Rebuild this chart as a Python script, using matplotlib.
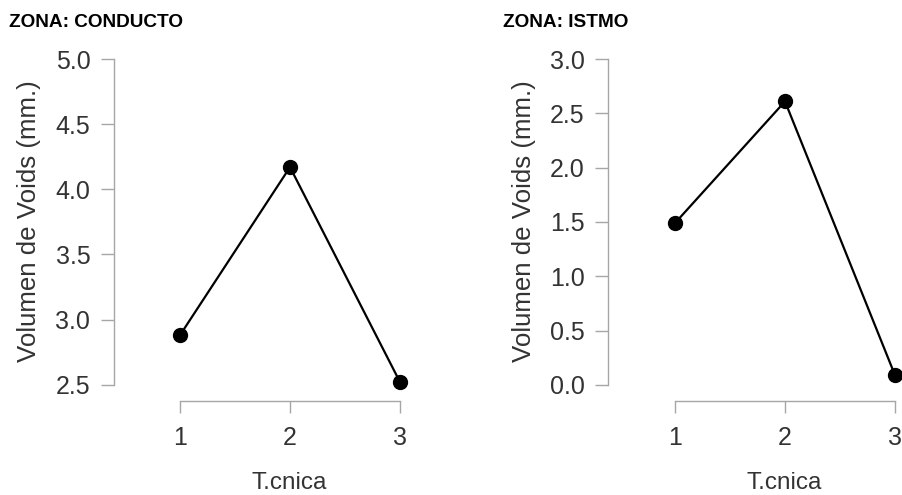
import matplotlib
matplotlib.use("Agg")
import matplotlib.pyplot as plt

plt.rcParams["font.family"] = ["Liberation Sans", "DejaVu Sans"]

# datos
tecnica = [1, 2, 3]
conducto = [2.88, 4.17, 2.52]
istmo = [1.49, 2.61, 0.09]
yt_conducto = [2.5, 3.0, 3.5, 4.0, 4.5, 5.0]
yt_istmo = [0.0, 0.5, 1.0, 1.5, 2.0, 2.5, 3.0]

W, H = 902, 495
fig = plt.figure(figsize=(W / 100, H / 100), dpi=100)
TXT = "#333333"

def px_axes(x0, x1, ytop, ybot):
    return fig.add_axes([x0 / W, 1 - ybot / H, (x1 - x0) / W, (ybot - ytop) / H])

def panel(ax, y, yticks, ylim, left_off, title, tx, ylab_x, xlab_x):
    ax.plot(tecnica, y, color="black", lw=1.6, marker="o", ms=10, clip_on=False, zorder=3)
    ax.set_xlim(0.92, 3.08)
    ax.set_ylim(*ylim)
    ax.set_xticks(tecnica)
    ax.set_yticks(yticks)
    ax.set_yticklabels([f"{v:.1f}" for v in yticks])
    for s in ("top", "right"):
        ax.spines[s].set_visible(False)
    ax.spines["left"].set_position(("outward", left_off))
    ax.spines["bottom"].set_position(("outward", 2.4))
    ax.spines["left"].set_bounds(yticks[0], yticks[-1])
    ax.spines["bottom"].set_bounds(1, 3)
    for s in ("left", "bottom"):
        ax.spines[s].set_color("#a6a6a6")
        ax.spines[s].set_linewidth(1.0)
    ax.tick_params(axis="y", length=9.5, width=1.0, color="#a6a6a6", pad=7.5,
                   labelsize=18, labelcolor=TXT)
    ax.tick_params(axis="x", length=8.5, width=1.0, color="#a6a6a6", pad=9.5,
                   labelsize=18, labelcolor=TXT)
    # axis titles placed like the R device does
    fig.text(ylab_x / W, 1 - 221.5 / H, "Volumen de Voids (mm.)", rotation=90,
             fontsize=18.6, color=TXT, ha="center", va="center")
    fig.text(xlab_x / W, 1 - 489 / H, "T.cnica", fontsize=17.5, color=TXT,
             ha="center", va="baseline")
    fig.text(tx / W, 1 - 27 / H, title, fontsize=13.7, fontweight="bold", ha="left",
             va="baseline", color="black")

ax1 = px_axes(171.2, 408.8, 46, 397.7)
panel(ax1, conducto, yt_conducto, (2.4, 5.1), 41.2, "ZONA: CONDUCTO", 9, 29, 289)

ax2 = px_axes(666.2, 903.8, 46, 398)
panel(ax2, istmo, yt_istmo, (-0.12, 3.12), 41.9, "ZONA: ISTMO", 503, 524, 784)

fig.savefig("out.png", dpi=100)
